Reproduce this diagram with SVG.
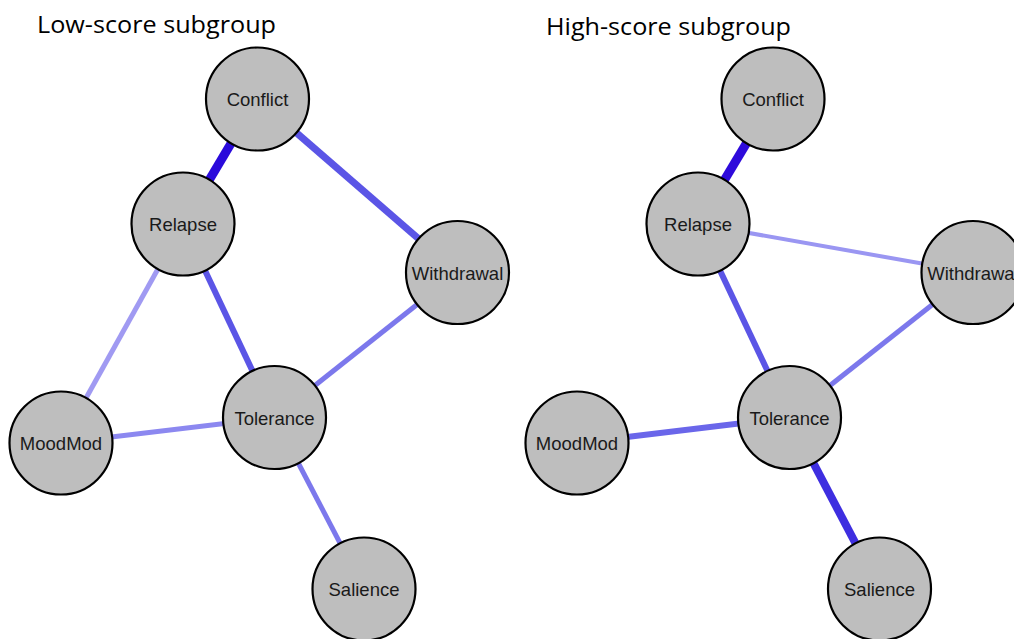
<svg xmlns="http://www.w3.org/2000/svg" width="1014" height="639" viewBox="0 0 1014 639">
<style>
.title{font-family:"Open Sans","Liberation Sans",sans-serif;font-size:24px;fill:#000}
.node circle{fill:#BEBEBE;stroke:#000;stroke-width:2.2}
.node text{font-family:"Liberation Sans",Arial,sans-serif;font-size:18.5px;fill:#1a1a1a;text-anchor:middle}
.edge{stroke-linecap:butt;fill:none}
</style>
<rect width="1014" height="639" fill="#fff"/>
<text class="title" x="37" y="33" textLength="239" lengthAdjust="spacingAndGlyphs">Low-score subgroup</text>
<text class="title" x="546" y="35" textLength="245" lengthAdjust="spacingAndGlyphs">High-score subgroup</text>
<g id="connectors">
<line class="edge" x1="257.5" y1="99" x2="183" y2="224" stroke="#2A0ADB" stroke-width="9"/>
<line class="edge" x1="257.5" y1="99" x2="457.5" y2="272.5" stroke="#5B55E6" stroke-width="7"/>
<line class="edge" x1="183" y1="224" x2="274.5" y2="417.5" stroke="#5B55E6" stroke-width="6"/>
<line class="edge" x1="183" y1="224" x2="61" y2="443" stroke="#A09AF2" stroke-width="5"/>
<line class="edge" x1="457.5" y1="272.5" x2="274.5" y2="417.5" stroke="#7C78EC" stroke-width="5"/>
<line class="edge" x1="61" y1="443" x2="274.5" y2="417.5" stroke="#8C88F0" stroke-width="5"/>
<line class="edge" x1="274.5" y1="417.5" x2="364" y2="589" stroke="#7C78EC" stroke-width="5"/>
<line class="edge" x1="773" y1="99" x2="698" y2="224" stroke="#2E0ADB" stroke-width="9"/>
<line class="edge" x1="698" y1="224" x2="973" y2="272.5" stroke="#9A96F2" stroke-width="4"/>
<line class="edge" x1="698" y1="224" x2="789.5" y2="417.5" stroke="#5B55E6" stroke-width="6"/>
<line class="edge" x1="973" y1="272.5" x2="789.5" y2="417.5" stroke="#7C78EC" stroke-width="5"/>
<line class="edge" x1="577" y1="443" x2="789.5" y2="417.5" stroke="#6A66EA" stroke-width="6"/>
<line class="edge" x1="789.5" y1="417.5" x2="879.5" y2="589" stroke="#3E2EE0" stroke-width="8"/>
</g>
<g id="L-Conflict" class="node"><circle cx="257.5" cy="99" r="51.5"/><text x="257.5" y="106">Conflict</text></g>
<g id="L-Relapse" class="node"><circle cx="183" cy="224" r="51.5"/><text x="183" y="231">Relapse</text></g>
<g id="L-Withdrawal" class="node"><circle cx="457.5" cy="272.5" r="51.5"/><text x="457.5" y="279.5">Withdrawal</text></g>
<g id="L-Tolerance" class="node"><circle cx="274.5" cy="417.5" r="51.5"/><text x="274.5" y="424.5">Tolerance</text></g>
<g id="L-MoodMod" class="node"><circle cx="61" cy="443" r="51.5"/><text x="61" y="450">MoodMod</text></g>
<g id="L-Salience" class="node"><circle cx="364" cy="589" r="51.5"/><text x="364" y="596">Salience</text></g>
<g id="H-Conflict" class="node"><circle cx="773" cy="99" r="51.5"/><text x="773" y="106">Conflict</text></g>
<g id="H-Relapse" class="node"><circle cx="698" cy="224" r="51.5"/><text x="698" y="231">Relapse</text></g>
<g id="H-Withdrawal" class="node"><circle cx="973" cy="272.5" r="51.5"/><text x="973" y="279.5">Withdrawal</text></g>
<g id="H-Tolerance" class="node"><circle cx="789.5" cy="417.5" r="51.5"/><text x="789.5" y="424.5">Tolerance</text></g>
<g id="H-MoodMod" class="node"><circle cx="577" cy="443" r="51.5"/><text x="577" y="450">MoodMod</text></g>
<g id="H-Salience" class="node"><circle cx="879.5" cy="589" r="51.5"/><text x="879.5" y="596">Salience</text></g>
</svg>
